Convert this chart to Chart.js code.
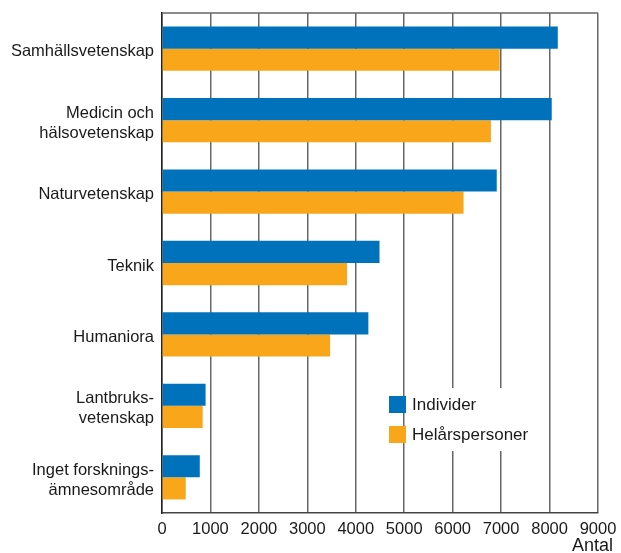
<!DOCTYPE html>
<html>
<head>
<meta charset="utf-8">
<script src="https://cdn.jsdelivr.net/npm/chart.js@4/dist/chart.umd.min.js"></script>
<style>
  html, body { margin: 0; padding: 0; background: #fff; }
  #wrap { width: 621px; height: 553px; }
</style>
</head>
<body>
<div id="wrap"><canvas id="c"></canvas></div>
<script>
// categories and values (Antal)
const categories = [
    "Samhällsvetenskap",
    ["Medicin och", "hälsovetenskap"],
    "Naturvetenskap",
    "Teknik",
    "Humaniora",
    ["Lantbruks-", "vetenskap"],
    ["Inget forsknings-", "ämnesområde"]
];
const individer = [8170, 8045, 6910, 4490, 4260, 900, 780];
const helarspersoner = [6970, 6790, 6225, 3820, 3470, 840, 490];
const xTicks = [0, 1000, 2000, 3000, 4000, 5000, 6000, 7000, 8000, 9000];
const axisTitle = "Antal";

const FONT = "'Liberation Sans', Arial, Helvetica, sans-serif";

// legend box inside the plot + top frame line + axis title
const extras = {
    id: "extras",
    afterDraw(chart) {
        const { ctx, chartArea } = chart;
        ctx.save();
        ctx.strokeStyle = "#666";
        ctx.lineWidth = 1.5;
        ctx.beginPath();
        ctx.moveTo(chartArea.left, chartArea.top);
        ctx.lineTo(chartArea.right, chartArea.top);
        ctx.stroke();

        // legend
        const lx = 389, ly = 396;
        ctx.fillStyle = "#fff";
        ctx.fillRect(lx + 17, ly - 8, 130, 63);
        ctx.font = "17px " + FONT;
        ctx.textBaseline = "middle";
        chart.data.datasets.forEach((ds, i) => {
            const y = ly + i * 30;
            ctx.fillStyle = ds.backgroundColor;
            ctx.fillRect(lx, y, 17, 17);
            ctx.fillStyle = "#1a1a1a";
            ctx.fillText(ds.label, lx + 23, y + 9);
        });

        ctx.font = "18px " + FONT;
        ctx.textAlign = "right";
        ctx.textBaseline = "alphabetic";
        ctx.fillStyle = "#1a1a1a";
        ctx.fillText(axisTitle, chart.width - 8, 551);
        ctx.restore();
    }
};

new Chart(document.getElementById("c"), {
    type: "bar",
    data: {
        labels: categories,
        datasets: [
            { label: "Individer", data: individer, backgroundColor: "#0072bc" },
            { label: "Helårspersoner", data: helarspersoner, backgroundColor: "#f9a61b" }
        ]
    },
    options: {
        indexAxis: "y",
        responsive: true,
        maintainAspectRatio: false,
        animation: false,
        categoryPercentage: 0.62,
        barPercentage: 1,
        layout: { padding: { top: 13, right: 23, bottom: 0, left: 0 } },
        plugins: {
            legend: { display: false },
            tooltip: { enabled: false }
        },
        scales: {
            x: {
                min: 0,
                max: 9000,
                afterBuildTicks: s => { s.ticks = xTicks.map(v => ({ value: v })); },
                afterFit: s => { s.height = 40; s.paddingLeft = 0; s.paddingRight = 0; },
                grid: { color: "#666", lineWidth: 1.5, drawTicks: false },
                border: { color: "#444", width: 1.5 },
                ticks: {
                    padding: 7,
                    color: "#1a1a1a",
                    font: { family: FONT, size: 16.5 },
                    maxRotation: 0,
                    callback: v => String(v)
                }
            },
            y: {
                afterFit: s => { s.width = 162; s.paddingTop = 0; s.paddingBottom = 0; },
                grid: { display: false, drawTicks: false },
                border: { color: "#222", width: 1.5 },
                ticks: {
                    padding: 8,
                    labelOffset: 3,
                    color: "#1a1a1a",
                    font: { family: FONT, size: 16.5, lineHeight: 1.22 }
                }
            }
        }
    },
    plugins: [extras]
});
</script>
</body>
</html>
